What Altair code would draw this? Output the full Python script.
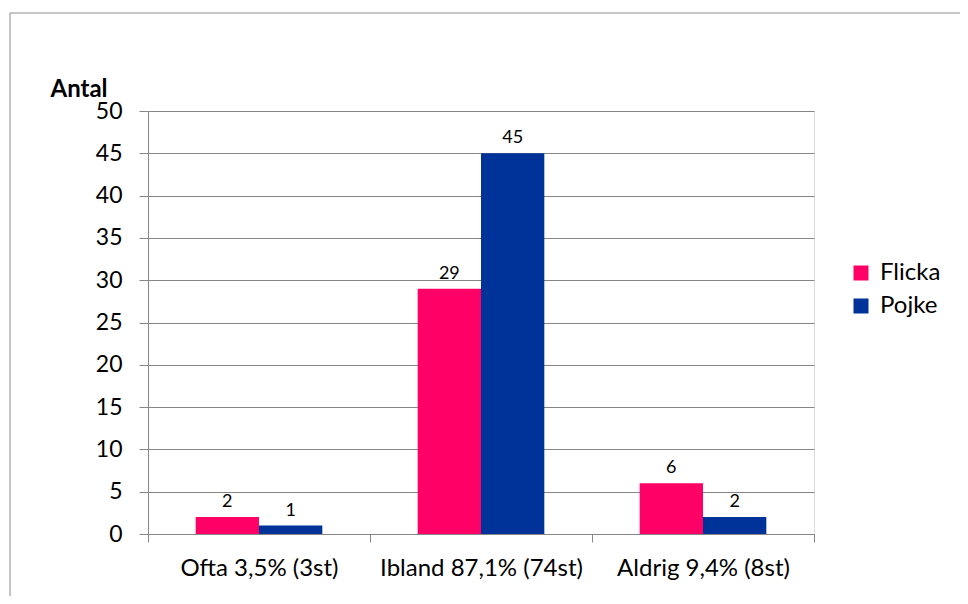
import altair as alt
import pandas as pd

categories = ["Ofta 3,5% (3st)", "Ibland 87,1% (74st)", "Aldrig 9,4% (8st)"]
series = ["Flicka", "Pojke"]
flicka = [2, 29, 6]
pojke = [1, 45, 2]
colors = ["#FF0066", "#003399"]
y_ticks = list(range(0, 55, 5))

rows = []
for i, c in enumerate(categories):
    rows.append({"kat": c, "kon": "Flicka", "antal": flicka[i]})
    rows.append({"kat": c, "kon": "Pojke", "antal": pojke[i]})
df = pd.DataFrame(rows)

FONT = "Lato"
GRAY = "#868686"

x_enc = alt.X("kat:N", sort=categories,
              scale=alt.Scale(paddingInner=0, paddingOuter=0),
              axis=alt.Axis(title=None, labelAngle=0, labelFontSize=24, labelFont=FONT,
                            labelColor="#000000", domainColor=GRAY, tickColor=GRAY,
                            tickSize=8, tickBand="extent", labelPadding=14,
                            labelBaseline="top", labelLimit=400, labelOverlap=False))
xo_enc = alt.XOffset("kon:N", sort=series,
                     scale=alt.Scale(paddingInner=0, paddingOuter=0.753))

base = alt.Chart(df)

bars = base.mark_bar().encode(
    x=x_enc,
    xOffset=xo_enc,
    y=alt.Y("antal:Q", scale=alt.Scale(domain=[0, 50], nice=False),
            axis=alt.Axis(values=y_ticks, title="Antal", titleAngle=0, titleAlign="left",
                          titleBaseline="alphabetic", titleX=-98, titleY=-15,
                          titleFont=FONT, titleFontSize=24, titleFontWeight="bold",
                          titleColor="#000000",
                          labelFont=FONT, labelFontSize=23, labelColor="#000000",
                          labelPadding=17, tickSize=9, tickColor=GRAY, domainColor=GRAY,
                          gridColor=GRAY, grid=True)),
    color=alt.Color("kon:N", sort=series,
                    scale=alt.Scale(domain=series, range=colors),
                    legend=alt.Legend(title=None, orient="none", legendX=701, legendY=150,
                                      symbolType="square", symbolSize=225,
                                      symbolStrokeWidth=0, labelFont=FONT,
                                      labelFontSize=24, labelColor="#000000",
                                      labelOffset=7, rowPadding=9)),
)

labels = base.mark_text(font=FONT, fontSize=18, color="#000000",
                        baseline="alphabetic", dy=-10).encode(
    x=alt.X("kat:N", sort=categories),
    xOffset=alt.XOffset("kon:N", sort=series),
    y="antal:Q",
    text="antal:Q",
)

border = alt.Chart(pd.DataFrame({"a": [0]})).mark_rect(
    fill="transparent", stroke="#8c8c8c", strokeWidth=1
).encode(
    x=alt.value(-138), x2=alt.value(830), y=alt.value(-98), y2=alt.value(600)
)

chart = alt.layer(border, bars, labels).properties(
    width=666, height=423,
    autosize=alt.AutoSizeParams(type="none"),
    padding={"left": 140, "top": 103, "right": 146, "bottom": 62},
).configure_view(strokeWidth=0).configure(background="#ffffff")

chart.save("out.html", embed_options={"renderer": "svg", "actions": False})
